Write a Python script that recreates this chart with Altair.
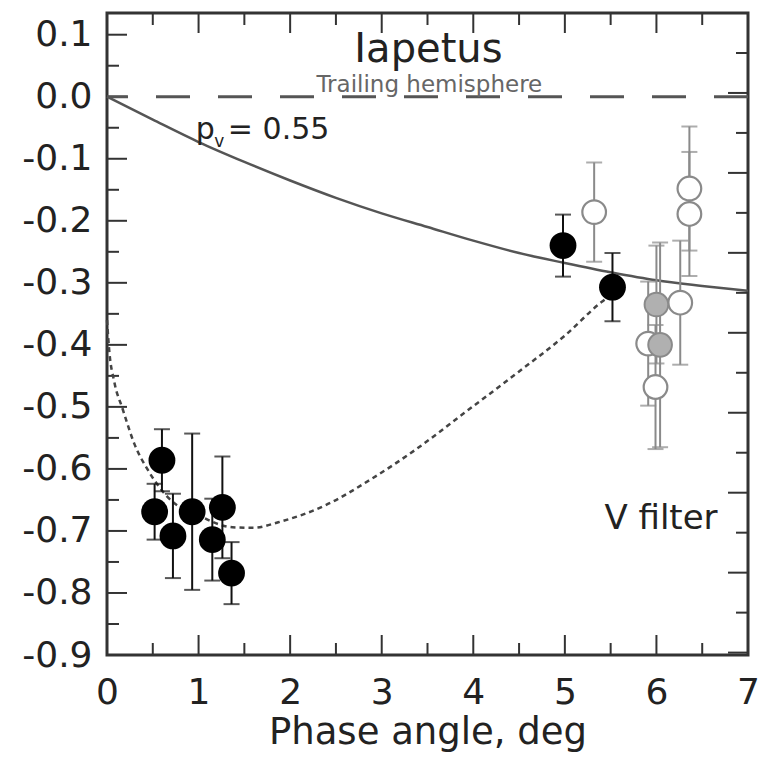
import altair as alt
import pandas as pd

# ---------------- data ----------------
filled_x = [0.52, 0.60, 0.72, 0.93, 1.15, 1.26, 1.36, 4.98, 5.52]
filled_y = [-0.669, -0.586, -0.708, -0.669, -0.714, -0.662, -0.768, -0.240, -0.307]
filled_err = [0.045, 0.050, 0.068, 0.126, 0.066, 0.082, 0.050, 0.050, 0.055]

open_x = [5.32, 6.36, 6.36, 6.26, 5.91, 5.99]
open_y = [-0.186, -0.148, -0.189, -0.332, -0.398, -0.468]
open_err = [0.08, 0.10, 0.10, 0.10, 0.10, 0.10]

gray_x = [6.00, 6.04]
gray_y = [-0.335, -0.400]
gray_err = [0.095, 0.165]

solid_x = [0, 0.5, 1, 1.5, 2, 2.5, 3, 3.5, 4, 4.5, 5, 5.5, 6, 6.5, 7]
solid_y = [0.0, -0.037, -0.073, -0.105, -0.135, -0.163, -0.188, -0.210,
           -0.232, -0.252, -0.268, -0.283, -0.296, -0.305, -0.313]

dotted_x = [0.0, 0.025, 0.08, 0.17, 0.30, 0.46, 0.68, 1.0, 1.37, 1.6, 1.87,
            2.38, 2.89, 3.36, 3.9, 4.49, 5.0, 5.4, 5.55]
dotted_y = [-0.36, -0.41, -0.46, -0.503, -0.56, -0.605, -0.648, -0.675, -0.694,
            -0.695, -0.686, -0.659, -0.616, -0.570, -0.51, -0.444, -0.385, -0.331, -0.315]

x_major = [0, 1, 2, 3, 4, 5, 6, 7]
x_minor = [0.5, 1.5, 2.5, 3.5, 4.5, 5.5, 6.5]
y_major = [-0.9, -0.8, -0.7, -0.6, -0.5, -0.4, -0.3, -0.2, -0.1, 0.0, 0.1]
y_minor = [-0.85, -0.75, -0.65, -0.55, -0.45, -0.35, -0.25, -0.15, -0.05, 0.05]
r_major = [1, 2, 3, 4, 5, 6, 7, 8]
r_minor = [0.5, 1.5, 2.5, 3.5, 4.5, 5.5, 6.5, 7.5]

x_domain = [0, 7]
y_domain = [-0.9, 0.135]
r_domain = [0, 8.03]

# ---------------- chart ----------------
W, H = 641, 642
FONT = "DejaVu Sans"
xs = alt.Scale(domain=x_domain, nice=False, zero=False)
ys = alt.Scale(domain=y_domain, nice=False, zero=False)

xax = alt.Axis(values=x_major, ticks=False, tickSize=0, domain=False, grid=False,
               labelFont=FONT, labelFontSize=36, labelColor="#222", labelPadding=20,
               labelFlush=False, labelOverlap=False,
               title="Phase angle, deg", titleFont=FONT, titleFontSize=37,
               titleFontWeight="normal", titleColor="#222", titlePadding=4)
yax = alt.Axis(values=y_major, ticks=False, tickSize=0, domain=False, grid=False,
               labelFont=FONT, labelFontSize=36, labelColor="#222", labelPadding=15,
               labelFlush=False, labelOverlap=False,
               labelExpr="replace(format(datum.value, '.1f'), '\u2212', '-')",
               title=None)


def X(f="x"):
    return alt.X(f"{f}:Q", scale=xs, axis=xax)


def Y(f="y"):
    return alt.Y(f"{f}:Q", scale=ys, axis=yax)


def pts(xv, yv, ev):
    return pd.DataFrame({"x": xv, "y": yv,
                         "lo": [a - e for a, e in zip(yv, ev)],
                         "hi": [a + e for a, e in zip(yv, ev)]})


df_f = pts(filled_x, filled_y, filled_err)
df_o = pts(open_x, open_y, open_err)
df_g = pts(gray_x, gray_y, gray_err)

# ticks (inward)
tx_maj = pd.DataFrame({"x": x_major})
tx_min = pd.DataFrame({"x": x_minor})
ty_maj = pd.DataFrame({"y": y_major})
ty_min = pd.DataFrame({"y": y_minor})

tick_color = "#333"
ticks = [
    alt.Chart(tx_maj).mark_rule(color=tick_color, strokeWidth=2).encode(x=X(), y=alt.value(H), y2=alt.value(H - 20)),
    alt.Chart(tx_min).mark_rule(color=tick_color, strokeWidth=2).encode(x=X(), y=alt.value(H), y2=alt.value(H - 12)),
    alt.Chart(tx_maj).mark_rule(color=tick_color, strokeWidth=2).encode(x=X(), y=alt.value(0), y2=alt.value(20)),
    alt.Chart(tx_min).mark_rule(color=tick_color, strokeWidth=2).encode(x=X(), y=alt.value(0), y2=alt.value(12)),
    alt.Chart(ty_maj).mark_rule(color=tick_color, strokeWidth=2).encode(y=Y(), x=alt.value(0), x2=alt.value(20)),
    alt.Chart(ty_min).mark_rule(color=tick_color, strokeWidth=2).encode(y=Y(), x=alt.value(0), x2=alt.value(12)),
]

zero_line = alt.Chart(pd.DataFrame({"y": [0.0]})).mark_rule(
    color="#555", strokeWidth=3, strokeDash=[34, 28]).encode(y=Y())

solid = alt.Chart(pd.DataFrame({"x": solid_x, "y": solid_y})).mark_line(
    color="#555", strokeWidth=2.5, interpolate="monotone").encode(x=X(), y=Y())

dotted = alt.Chart(pd.DataFrame({"x": dotted_x, "y": dotted_y})).mark_line(
    color="#444", strokeWidth=2.5, strokeDash=[5, 4], interpolate="monotone").encode(x=X(), y=Y())


def errbars(df, color):
    bar = alt.Chart(df).mark_rule(color=color, strokeWidth=2).encode(
        x=X(), y=Y("lo"), y2="hi:Q")
    cap_lo = alt.Chart(df).mark_tick(color=color, orient="horizontal", size=16, thickness=2).encode(
        x=X(), y=Y("lo"))
    cap_hi = alt.Chart(df).mark_tick(color=color, orient="horizontal", size=16, thickness=2).encode(
        x=X(), y=Y("hi"))
    return [bar, cap_lo, cap_hi]


open_pts = alt.Chart(df_o).mark_point(shape="circle", size=560, filled=False, fill="white",
                                      fillOpacity=1, stroke="#8a8a8a", strokeWidth=2.2,
                                      opacity=1).encode(x=X(), y=Y())
gray_pts = alt.Chart(df_g).mark_point(shape="circle", size=560, filled=True, fill="#b0b0b0",
                                      stroke="#8a8a8a", strokeWidth=2, opacity=1).encode(x=X(), y=Y())
filled_pts = alt.Chart(df_f).mark_point(shape="circle", size=720, filled=True, color="#000",
                                        opacity=1).encode(x=X(), y=Y())


def label(txt, xv, yv, size, align="center", color="#222"):
    return alt.Chart(pd.DataFrame({"x": [xv], "y": [yv], "t": [txt]})).mark_text(
        font=FONT, fontSize=size, align=align, baseline="alphabetic", color=color).encode(
        x=X(), y=Y(), text="t:N")


texts = [
    label("Iapetus", 3.51, 0.056, 40),
    label("Trailing hemisphere", 3.52, 0.008, 23, color="#666"),
    label("p", 0.97, -0.068, 30, align="left"),
    label("v", 1.17, -0.081, 17, align="left"),
    label("= 0.55", 1.32, -0.068, 30, align="left"),
    label("V filter", 6.05, -0.697, 34),
]

main = alt.layer(*ticks, zero_line, solid, dotted,
                 *errbars(df_o, "#8a8a8a"), *errbars(df_g, "#8a8a8a"),
                 open_pts, gray_pts,
                 *errbars(df_f, "#111"), filled_pts, *texts)

right_maj = alt.Chart(pd.DataFrame({"r": r_major})).mark_rule(color=tick_color, strokeWidth=2).encode(
    y=alt.Y("r:Q", scale=alt.Scale(domain=r_domain, reverse=True, nice=False, zero=False), axis=None),
    x=alt.value(W), x2=alt.value(W - 20))
right_min = alt.Chart(pd.DataFrame({"r": r_minor})).mark_rule(color=tick_color, strokeWidth=2).encode(
    y=alt.Y("r:Q", scale=alt.Scale(domain=r_domain, reverse=True, nice=False, zero=False), axis=None),
    x=alt.value(W), x2=alt.value(W - 12))

chart = alt.layer(main, right_maj + right_min).resolve_scale(y="independent").properties(
    width=W, height=H,
    padding={"left": 99, "top": 5, "right": 13, "bottom": 102},
    autosize=alt.AutoSizeParams(type="none"),
    background="white",
).configure_view(stroke="#333", strokeWidth=3)

chart.save("out.html", embed_options={"renderer": "svg", "actions": False})
